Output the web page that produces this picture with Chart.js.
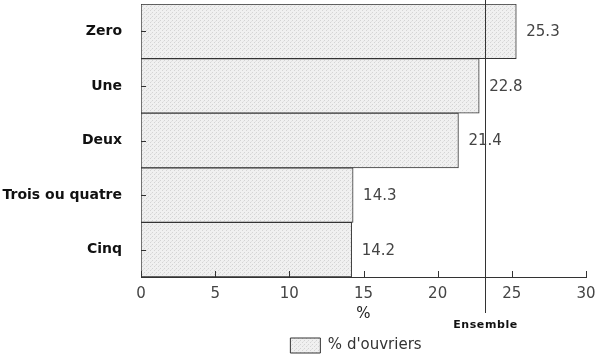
<!DOCTYPE html>
<html>
<head>
<meta charset="utf-8">
<script src="https://cdn.jsdelivr.net/npm/chart.js@4/dist/chart.umd.min.js"></script>
<style>
  html, body { margin: 0; padding: 0; background: #ffffff; }
  #wrap { width: 595px; height: 359px; position: relative; }
</style>
</head>
<body>
<div id="wrap"><canvas id="c" width="595" height="359"></canvas></div>
<script>
// ---- data ----
const categories = ['Zero', 'Une', 'Deux', 'Trois ou quatre', 'Cinq'];
const ouvriers = [25.3, 22.8, 21.4, 14.3, 14.2];
const ensemble = 23.2;
const seriesLabel = "% d'ouvriers";
const axisTitle = '%';
const ensembleLabel = 'Ensemble';

// ---- stippled fill pattern ----
function makePattern() {
  const p = document.createElement('canvas');
  p.width = 4; p.height = 4;
  const g = p.getContext('2d');
  g.fillStyle = '#f0f0f0';
  g.fillRect(0, 0, 4, 4);
  g.fillStyle = '#d4d4d4';
  g.fillRect(0, 0, 1, 1);
  g.fillRect(2, 2, 1, 1);
  g.fillStyle = '#e2e2e2';
  g.fillRect(3, 1, 1, 1);
  return g.createPattern(p, 'repeat');
}
const stipple = makePattern();
const ink = '#333333';

const decor = {
  id: 'decor',
  afterLayout(chart) {
    const lg = chart.legend;
    if (lg) {
      const dx = 63, dy = 4;
      lg.left += dx; lg.right += dx;
      lg.top += dy; lg.bottom += dy;
    }
  },
  afterDatasetsDraw(chart) {
    const ctx = chart.ctx;
    const xs = chart.scales.x, ys = chart.scales.y;
    const area = chart.chartArea;
    ctx.save();
    ctx.strokeStyle = ink;
    ctx.lineWidth = 1;
    // inward ticks on y axis
    ys.ticks.forEach((t, i) => {
      const y = Math.round(ys.getPixelForTick(i)) + 0.5;
      ctx.beginPath();
      ctx.moveTo(area.left, y);
      ctx.lineTo(area.left + 5, y);
      ctx.stroke();
    });
    // inward ticks on x axis
    xs.ticks.forEach((t, i) => {
      const x = Math.round(xs.getPixelForTick(i)) + 0.5;
      ctx.beginPath();
      ctx.moveTo(x, area.bottom);
      ctx.lineTo(x, area.bottom - 6);
      ctx.stroke();
    });
    // Ensemble line
    const ex = Math.round(xs.getPixelForValue(ensemble)) + 0.5;
    ctx.beginPath();
    ctx.moveTo(ex, 0);
    ctx.lineTo(ex, 313);
    ctx.stroke();
    ctx.fillStyle = '#111111';
    ctx.font = 'bold 11px "DejaVu Sans"';
    ctx.letterSpacing = '0.6px';
    ctx.textAlign = 'center';
    ctx.textBaseline = 'middle';
    ctx.fillText(ensembleLabel, ex, 325);
    ctx.letterSpacing = '0px';
    // value labels
    ctx.font = '15px "DejaVu Sans"';
    ctx.fillStyle = '#444444';
    ctx.textAlign = 'left';
    const meta = chart.getDatasetMeta(0);
    meta.data.forEach((bar, i) => {
      ctx.fillText(ouvriers[i].toFixed(1), bar.x + 10, bar.y + 1);
    });
    ctx.restore();
  }
};

new Chart(document.getElementById('c'), {
  type: 'bar',
  data: {
    labels: categories,
    datasets: [{
      label: seriesLabel,
      data: ouvriers,
      backgroundColor: stipple,
      borderColor: ink,
      borderWidth: 1,
      borderSkipped: false,
      categoryPercentage: 1,
      barPercentage: 1
    }]
  },
  options: {
    indexAxis: 'y',
    responsive: false,
    animation: false,
    devicePixelRatio: 1,
    layout: { padding: { left: 0, top: 4, right: 9, bottom: 0 } },
    plugins: {
      tooltip: { enabled: false },
      legend: {
        display: true,
        position: 'bottom',
        labels: {
          boxWidth: 30,
          boxHeight: 15,
          padding: 11,
          color: '#333333',
          font: { family: 'DejaVu Sans', size: 15 }
        }
      }
    },
    scales: {
      x: {
        type: 'linear',
        min: 0,
        max: 30,
        ticks: {
          stepSize: 5,
          padding: 8,
          color: '#444444',
          font: { family: 'DejaVu Sans', size: 15 }
        },
        grid: { display: false, drawTicks: false },
        border: { display: true, color: ink, width: 1 },
        title: {
          display: true,
          text: axisTitle,
          color: '#222222',
          padding: { top: 3, bottom: 0 },
          font: { family: 'DejaVu Sans', size: 15 }
        },
        afterFit(s) { s.height = 46; s.paddingLeft = 0; s.paddingRight = 0; }
      },
      y: {
        ticks: {
          padding: 19,
          color: '#111111',
          font: { family: 'DejaVu Sans', size: 14, weight: 'bold' }
        },
        grid: { display: false, drawTicks: false },
        border: { display: true, color: ink, width: 1 },
        afterFit(s) { s.width = 141; s.paddingTop = 0; s.paddingBottom = 0; }
      }
    }
  },
  plugins: [decor]
});
</script>
</body>
</html>
